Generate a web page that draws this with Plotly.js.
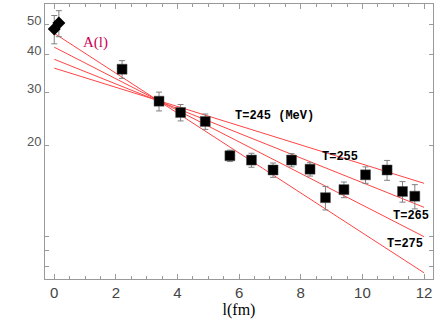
<!DOCTYPE html>
<html>
<head>
<meta charset="utf-8">
<script src="https://cdn.plot.ly/plotly-3.0.1.min.js"></script>
<style>
  html, body { margin: 0; padding: 0; background: #fff; }
  #chart { width: 436px; height: 327px; }
</style>
</head>
<body>
<div id="chart"></div>
<script>
// A(l) versus l on a log scale: lattice points with errors plus four
// exponential fits labelled by temperature.

// --- data -----------------------------------------------------------------

const squareX = [2.2, 3.4, 4.1, 4.9, 5.7, 6.4, 7.1, 7.7, 8.3, 8.8, 9.4, 10.1, 10.8, 11.3, 11.7];
const squareY = [35.7, 28.0, 25.7, 24.0, 18.5, 17.9, 16.6, 17.9, 16.7, 13.45, 14.3, 16.0, 16.6, 14.1, 13.6];
const squareErr = [2.4, 2.0, 1.6, 1.4, 0.8, 0.95, 0.9, 0.9, 0.85, 1.2, 0.85, 1.0, 1.25, 1.1, 1.25];

const diamondX = [0.0, 0.15];
const diamondY = [48.5, 50.7];
const diamondErr = [5.2, 5.0];

const fitLabels = ['T=245 (MeV)', 'T=255', 'T=265', 'T=275'];
const fitX = [0, 12];
const fitStart = [36.0, 38.5, 42.2, 46.9];
const fitEnd = [15.0, 12.5, 10.0, 7.6];
const fitLabelX = [5.8, 8.62, 10.94, 10.72];
const fitLabelY = [25.0, 18.3, 11.7, 9.44];

const yTickVals = [8, 9, 10, 20, 30, 40, 50];
const yTickText = ['', '', '', '20', '30', '40', '50'];

// --- traces ---------------------------------------------------------------

const COLORS = {
  fit: '#ff4444',
  frame: '#9a9a9a',
  err: '#808080',
  tick: '#444444',
  label: '#cc0055',
};

const fitTraces = fitStart.map((start, i) => ({
  x: fitX,
  y: [start, fitEnd[i]],
  mode: 'lines',
  line: { color: COLORS.fit, width: 1 },
  hoverinfo: 'skip',
}));

const errStyle = (values) => ({
  type: 'data',
  array: values,
  visible: true,
  color: COLORS.err,
  thickness: 1,
  width: 3,
});

const traces = [
  ...fitTraces,
  {
    x: squareX,
    y: squareY,
    error_y: errStyle(squareErr),
    mode: 'markers',
    marker: { symbol: 'square', size: 10, color: '#000', line: { color: '#555', width: 0.5 } },
  },
  {
    x: diamondX,
    y: diamondY,
    error_y: errStyle(diamondErr),
    mode: 'markers',
    marker: { symbol: 'diamond', size: 10, color: '#000' },
  },
];

// --- layout ---------------------------------------------------------------

const annotations = [
  {
    x: 1.35, y: Math.log10(43.9), text: 'A(l)', showarrow: false,
    font: { family: 'Liberation Serif, Times New Roman, serif', size: 15, color: COLORS.label },
  },
  ...fitLabels.map((text, i) => ({
    x: fitLabelX[i],
    y: Math.log10(fitLabelY[i]),
    text,
    xanchor: 'left',
    showarrow: false,
    font: { family: 'Liberation Mono, Courier New, monospace', size: 12, color: '#000', weight: 'bold' },
  })),
];

const layout = {
  width: 436,
  height: 327,
  margin: { l: 45, r: 3, t: 4, b: 48 },
  paper_bgcolor: '#fff',
  plot_bgcolor: '#fff',
  showlegend: false,
  xaxis: {
    range: [-0.3, 12.29],
    tickvals: [0, 2, 4, 6, 8, 10, 12],
    ticks: 'inside',
    ticklen: 5,
    tickcolor: COLORS.frame,
    minor: { dtick: 0.5, ticks: 'inside', ticklen: 3, tickcolor: COLORS.frame, showgrid: false },
    showline: true,
    linecolor: COLORS.frame,
    mirror: 'allticks',
    showgrid: false,
    zeroline: false,
    tickfont: { family: 'Liberation Sans, Arial, sans-serif', size: 15, color: COLORS.tick },
    title: {
      text: 'l(fm)',
      standoff: 2,
      font: { family: 'Liberation Serif, Times New Roman, serif', size: 16, color: '#000' },
    },
  },
  yaxis: {
    type: 'log',
    range: [Math.log10(7.25), Math.log10(58.6)],
    tickvals: yTickVals,
    ticktext: yTickText,
    ticks: 'inside',
    ticklen: 4,
    tickcolor: COLORS.frame,
    ticklabelshift: -4,
    showline: true,
    linecolor: COLORS.frame,
    mirror: 'allticks',
    showgrid: false,
    zeroline: false,
    tickfont: { family: 'Liberation Sans, Arial, sans-serif', size: 13, color: '#555' },
  },
  annotations,
};

Plotly.newPlot('chart', traces, layout, { displayModeBar: false, staticPlot: true });
</script>
</body>
</html>
